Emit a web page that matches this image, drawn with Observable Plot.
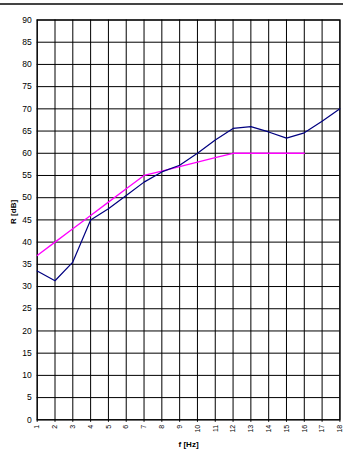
<!DOCTYPE html>
<html>
<head>
<meta charset="utf-8">
<script src="https://cdn.jsdelivr.net/npm/d3@7"></script>
<script src="https://cdn.jsdelivr.net/npm/@observablehq/plot@0.6"></script>
<style>
  html, body { margin: 0; padding: 0; background: #fff; }
  #rule { height: 3px; border-bottom: 2px solid #444; width: 343px; }
  #chart svg { display: block; }
</style>
</head>
<body>
<div id="rule"></div>
<div id="chart"></div>
<script>
const freqs = [1, 2, 3, 4, 5, 6, 7, 8, 9, 10, 11, 12, 13, 14, 15, 16, 17, 18];
const measured = [33.5, 31.3, 35.5, 45, 47.5, 50.5, 53.5, 55.8, 57.3, 60, 63, 65.6, 66, 64.8, 63.4, 64.6, 67.2, 70];
const refFreqs = [1, 2, 3, 4, 5, 6, 7, 8, 9, 10, 11, 12, 13, 14, 15, 16];
const reference = [37, 40, 43, 46, 49, 52, 55, 56, 57, 58, 59, 60, 60, 60, 60, 60];
const yTicks = [0, 5, 10, 15, 20, 25, 30, 35, 40, 45, 50, 55, 60, 65, 70, 75, 80, 85, 90];
const xLabel = "f [Hz]";
const yLabel = "R [dB]";

const measuredData = freqs.map((f, i) => ({f, r: measured[i]}));
const referenceData = refFreqs.map((f, i) => ({f, r: reference[i]}));

const chart = Plot.plot({
  width: 343,
  height: 445,
  marginTop: 14.5,
  marginBottom: 30.7,
  marginLeft: 36.7,
  marginRight: 3.6,
  style: {fontFamily: "'Liberation Sans', Arial, sans-serif", background: "#fff", color: "#000"},
  x: {type: "linear", domain: [1, 18]},
  y: {domain: [0, 90]},
  marks: [
    Plot.gridX(freqs, {stroke: "#000", strokeOpacity: 1, strokeWidth: 1}),
    Plot.gridY(yTicks, {stroke: "#000", strokeOpacity: 1, strokeWidth: 1}),
    Plot.frame({stroke: "#000", strokeWidth: 1.2}),
    Plot.axisX(freqs, {
      tickSize: 2.5, tickPadding: 2.5, tickRotate: -90, fontSize: 7,
      tickFormat: d => String(d),
      label: xLabel, labelAnchor: "center", labelArrow: "none", labelOffset: 27
    }),
    Plot.axisY(yTicks, {
      tickSize: 0, tickPadding: 5.5, fontSize: 8.5,
      label: yLabel, labelAnchor: "center", labelArrow: "none", labelOffset: 27
    }),
    Plot.line(referenceData, {x: "f", y: "r", stroke: "#ff00ff", strokeWidth: 1.3}),
    Plot.line(measuredData, {x: "f", y: "r", stroke: "#000080", strokeWidth: 1.2})
  ]
});
document.getElementById("chart").appendChild(chart);
// bold axis titles
chart.querySelectorAll("[aria-label$='axis label'] text").forEach(t => {
  t.setAttribute("font-weight", "bold");
  t.setAttribute("font-size", "8");
});
chart.querySelectorAll("[aria-label='y-axis label'] text").forEach(t => {
  t.setAttribute("dx", "8");
});
</script>
</body>
</html>
